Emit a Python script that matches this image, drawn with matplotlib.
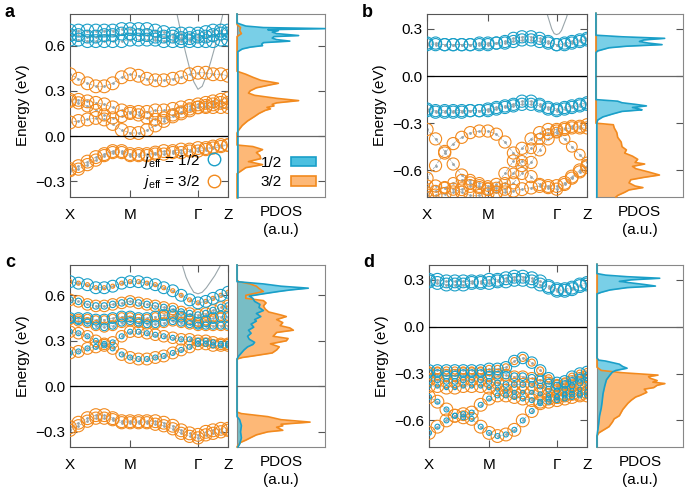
import numpy as np
import matplotlib
matplotlib.use("Agg")
import matplotlib.pyplot as plt
from matplotlib.lines import Line2D
from matplotlib.patches import Patch

plt.rcParams['font.family'] = ['Liberation Sans', 'DejaVu Sans']
plt.rcParams['font.size'] = 11
plt.rcParams['mathtext.fontset'] = 'custom'
plt.rcParams['mathtext.it'] = 'Liberation Sans:italic'
plt.rcParams['mathtext.rm'] = 'Liberation Sans'

BLUE = '#1a9fc8'
BLUE_FILL = '#4cc0e0'
ORANGE = '#f28a1e'
ORANGE_FILL = '#fdb877'
GRAY = '#9aa6ab'
SPINE = '#555555'

# k-path samples (X ... M ... Gamma ... Z)
kpath = [0.00, 0.14, 0.29, 0.43, 0.57, 0.71, 0.86, 1.00, 1.14, 1.28,
         1.42, 1.56, 1.71, 1.85, 1.99, 2.13, 2.26, 2.38, 2.51, 2.63]
kticks = [0.0, 1.0, 2.13, 2.63]
klabels = ['X', 'M', 'Γ', 'Z']

# ---------------- panel a ----------------
a_b1 = [0.70, 0.70, 0.70, 0.70, 0.70, 0.70, 0.71, 0.71, 0.71, 0.71, 0.70, 0.69, 0.68, 0.68, 0.68, 0.68, 0.69, 0.70, 0.70, 0.70]
a_b2 = [0.67, 0.67, 0.66, 0.66, 0.67, 0.67, 0.68, 0.68, 0.67, 0.67, 0.66, 0.66, 0.66, 0.65, 0.65, 0.66, 0.66, 0.67, 0.68, 0.68]
a_b3 = [0.64, 0.64, 0.63, 0.63, 0.63, 0.63, 0.63, 0.64, 0.64, 0.64, 0.64, 0.63, 0.63, 0.63, 0.63, 0.63, 0.63, 0.63, 0.64, 0.64]
a_o1 = [0.41, 0.38, 0.35, 0.33, 0.33, 0.35, 0.39, 0.41, 0.40, 0.38, 0.37, 0.37, 0.38, 0.39, 0.41, 0.42, 0.42, 0.41, 0.41, 0.40]
a_o2 = [0.24, 0.24, 0.23, 0.22, 0.21, 0.19, 0.17, 0.16, 0.16, 0.16, 0.17, 0.17, 0.18, 0.19, 0.20, 0.21, 0.22, 0.23, 0.24, 0.25]
a_o3 = [0.23, 0.22, 0.20, 0.17, 0.14, 0.12, 0.13, 0.15, 0.14, 0.12, 0.11, 0.12, 0.14, 0.16, 0.18, 0.19, 0.19, 0.19, 0.19, 0.19]
a_o4 = [0.09, 0.10, 0.11, 0.12, 0.11, 0.08, 0.04, 0.02, 0.02, 0.04, 0.07, 0.10, 0.13, 0.15, 0.17, 0.19, 0.20, 0.21, 0.22, 0.22]
a_o5 = [-0.22, -0.20, -0.17, -0.14, -0.12, -0.10, -0.10, -0.12, -0.12, -0.12, -0.11, -0.10, -0.10, -0.09, -0.09, -0.08, -0.08, -0.07, -0.06, -0.06]
a_o6 = [-0.23, -0.22, -0.19, -0.16, -0.13, -0.11, -0.11, -0.13, -0.13, -0.13, -0.12, -0.12, -0.11, -0.11, -0.10, -0.10, -0.09, -0.08, -0.07, -0.06]
a_free_k = [1.78, 1.85, 1.92, 1.99, 2.06, 2.13, 2.20, 2.27, 2.34, 2.41, 2.48, 2.55]
a_free_e = [0.81, 0.68, 0.56, 0.45, 0.36, 0.31, 0.33, 0.40, 0.49, 0.59, 0.70, 0.82]

pdos_a_12 = np.array([[0.81, 0], [0.75, 0], [0.73, 0.1], [0.72, 0.3], [0.713, 1.0], [0.706, 0.35],
                      [0.70, 0.47], [0.69, 0.4], [0.68, 0.45], [0.667, 0.70], [0.66, 0.42], [0.65, 0.4],
                      [0.64, 0.45], [0.63, 0.6], [0.62, 0.3], [0.61, 0.28], [0.60, 0.29], [0.59, 0.15],
                      [0.578, 0.06], [0.56, 0.01], [-0.41, 0.01]])
pdos_a_32 = np.array([[0.81, 0], [0.74, 0], [0.72, 0.04], [0.70, 0.03], [0.68, 0.05], [0.66, 0.0],
                      [0.43, 0], [0.41, 0.1], [0.39, 0.18], [0.37, 0.27], [0.35, 0.47], [0.34, 0.38],
                      [0.32, 0.22], [0.30, 0.15], [0.285, 0.13], [0.27, 0.2], [0.25, 0.45], [0.235, 0.70],
                      [0.22, 0.45], [0.21, 0.40], [0.20, 0.42], [0.19, 0.34], [0.18, 0.38], [0.17, 0.32],
                      [0.15, 0.25], [0.13, 0.2], [0.10, 0.12], [0.07, 0.06], [0.04, 0.02], [0.02, 0.0],
                      [-0.06, 0.0], [-0.07, 0.18], [-0.09, 0.29], [-0.11, 0.22], [-0.13, 0.26],
                      [-0.15, 0.27], [-0.17, 0.13], [-0.19, 0.29], [-0.21, 0.10], [-0.23, 0.05],
                      [-0.25, 0.0], [-0.41, 0.0]])

# ---------------- panel b ----------------
b_b1 = [0.21, 0.21, 0.20, 0.20, 0.20, 0.20, 0.21, 0.21, 0.21, 0.22, 0.24, 0.25, 0.25, 0.24, 0.22, 0.20, 0.20, 0.21, 0.22, 0.23]
b_b2 = [0.20, 0.20, 0.20, 0.20, 0.20, 0.20, 0.20, 0.20, 0.21, 0.21, 0.22, 0.23, 0.23, 0.22, 0.21, 0.20, 0.21, 0.22, 0.23, 0.24]
b_b3 = [-0.21, -0.22, -0.22, -0.22, -0.22, -0.22, -0.22, -0.21, -0.20, -0.19, -0.18, -0.16, -0.16, -0.18, -0.20, -0.21, -0.20, -0.19, -0.18, -0.17]
b_b4 = [-0.22, -0.23, -0.23, -0.23, -0.23, -0.22, -0.22, -0.22, -0.21, -0.20, -0.19, -0.18, -0.18, -0.19, -0.21, -0.22, -0.21, -0.20, -0.19, -0.18]
b_o1 = [-0.34, -0.40, -0.48, -0.56, -0.63, -0.68, -0.71, -0.72, -0.69, -0.62, -0.54, -0.46, -0.40, -0.36, -0.34, -0.34, -0.33, -0.32, -0.32, -0.31]
b_o2 = [-0.65, -0.57, -0.49, -0.43, -0.39, -0.36, -0.35, -0.35, -0.37, -0.42, -0.49, -0.57, -0.64, -0.69, -0.71, -0.72, -0.69, -0.65, -0.61, -0.57]
b_o3 = [-0.74, -0.73, -0.71, -0.68, -0.66, -0.66, -0.68, -0.70, -0.71, -0.68, -0.62, -0.54, -0.46, -0.40, -0.37, -0.36, -0.40, -0.45, -0.50, -0.55]
b_o4 = [-0.70, -0.70, -0.71, -0.72, -0.74, -0.76, -0.76, -0.75, -0.74, -0.72, -0.68, -0.62, -0.55, -0.47, -0.40, -0.35, -0.34, -0.33, -0.33, -0.33]
b_o5 = [-0.76, -0.76, -0.75, -0.74, -0.72, -0.70, -0.70, -0.72, -0.74, -0.74, -0.73, -0.72, -0.71, -0.70, -0.70, -0.70, -0.68, -0.64, -0.60, -0.58]
b_free_k = [1.97, 2.01, 2.05, 2.09, 2.13, 2.17, 2.21, 2.25, 2.29, 2.32]
b_free_e = [0.40, 0.35, 0.30, 0.27, 0.264, 0.27, 0.29, 0.33, 0.37, 0.41]

pdos_b_12 = np.array([[0.40, 0], [0.26, 0], [0.25, 0.3], [0.24, 0.79], [0.23, 0.55], [0.22, 0.5],
                      [0.21, 0.6], [0.20, 0.76], [0.19, 0.35], [0.18, 0.15], [0.16, 0.02], [0.15, 0],
                      [-0.15, 0], [-0.16, 0.25], [-0.17, 0.3], [-0.18, 0.45], [-0.19, 0.58], [-0.20, 0.42],
                      [-0.21, 0.5], [-0.215, 0.53], [-0.225, 0.3], [-0.24, 0.2], [-0.26, 0.08],
                      [-0.28, 0.02], [-0.30, 0.01], [-0.77, 0.01]])
pdos_b_32 = np.array([[0.40, 0], [-0.30, 0], [-0.31, 0.2], [-0.33, 0.21], [-0.36, 0.24], [-0.39, 0.25],
                      [-0.42, 0.29], [-0.45, 0.3], [-0.47, 0.35], [-0.49, 0.33], [-0.51, 0.42],
                      [-0.53, 0.48], [-0.55, 0.45], [-0.56, 0.56], [-0.575, 0.42], [-0.59, 0.46],
                      [-0.61, 0.6], [-0.63, 0.73], [-0.645, 0.55], [-0.66, 0.4], [-0.68, 0.38],
                      [-0.70, 0.45], [-0.71, 0.54], [-0.725, 0.38], [-0.74, 0.33], [-0.76, 0.25],
                      [-0.77, 0.23]])

# ---------------- panel c ----------------
c_1 = [0.69, 0.68, 0.67, 0.65, 0.65, 0.66, 0.68, 0.69, 0.69, 0.68, 0.67, 0.65, 0.63, 0.60, 0.57, 0.55, 0.56, 0.58, 0.60, 0.62]
c_2 = [0.57, 0.56, 0.54, 0.53, 0.53, 0.54, 0.55, 0.56, 0.55, 0.54, 0.53, 0.52, 0.51, 0.49, 0.48, 0.47, 0.48, 0.50, 0.52, 0.53]
c_3 = [0.45, 0.45, 0.45, 0.44, 0.44, 0.45, 0.46, 0.46, 0.45, 0.45, 0.46, 0.47, 0.47, 0.46, 0.44, 0.42, 0.43, 0.45, 0.46, 0.46]
c_4 = [0.44, 0.43, 0.42, 0.40, 0.39, 0.40, 0.42, 0.43, 0.42, 0.41, 0.41, 0.42, 0.43, 0.42, 0.41, 0.40, 0.40, 0.40, 0.40, 0.40]
c_5 = [0.36, 0.35, 0.33, 0.30, 0.28, 0.29, 0.33, 0.36, 0.36, 0.35, 0.34, 0.33, 0.32, 0.31, 0.31, 0.30, 0.30, 0.29, 0.28, 0.28]
c_6 = [0.22, 0.23, 0.25, 0.26, 0.27, 0.25, 0.21, 0.19, 0.18, 0.18, 0.19, 0.20, 0.22, 0.24, 0.26, 0.28, 0.28, 0.27, 0.27, 0.27]
c_7 = [-0.27, -0.24, -0.21, -0.19, -0.19, -0.21, -0.23, -0.23, -0.23, -0.23, -0.23, -0.24, -0.26, -0.29, -0.31, -0.32, -0.30, -0.29, -0.28, -0.28]
c_8 = [-0.29, -0.26, -0.23, -0.21, -0.21, -0.22, -0.24, -0.24, -0.24, -0.24, -0.25, -0.26, -0.28, -0.31, -0.33, -0.34, -0.32, -0.31, -0.30, -0.29]
c_free_k = [1.86, 1.93, 2.00, 2.06, 2.13, 2.20, 2.27, 2.34, 2.41, 2.48, 2.52]
c_free_e = [0.81, 0.72, 0.66, 0.62, 0.61, 0.62, 0.65, 0.69, 0.73, 0.78, 0.81]

pdos_c_12 = np.array([[0.80, 0], [0.69, 0], [0.675, 0.3], [0.66, 0.5], [0.647, 0.81], [0.635, 0.6],
                      [0.625, 0.47], [0.61, 0.3], [0.595, 0.14], [0.58, 0.18], [0.56, 0.2], [0.54, 0.26],
                      [0.52, 0.25], [0.50, 0.3], [0.48, 0.22], [0.46, 0.27], [0.44, 0.2], [0.43, 0.22],
                      [0.41, 0.16], [0.39, 0.19], [0.37, 0.13], [0.35, 0.16], [0.33, 0.12], [0.31, 0.14],
                      [0.29, 0.2], [0.276, 0.18], [0.26, 0.12], [0.24, 0.08], [0.22, 0.05], [0.20, 0.02],
                      [0.18, 0], [-0.20, 0], [-0.22, 0.03], [-0.26, 0.05], [-0.30, 0.04], [-0.34, 0.05],
                      [-0.38, 0.03], [-0.40, 0.01]])
pdos_c_32 = np.array([[0.80, 0], [0.70, 0], [0.69, 0.02], [0.675, 0.15], [0.66, 0.22], [0.645, 0.25],
                      [0.625, 0.3], [0.60, 0.1], [0.58, 0.1], [0.565, 0.3], [0.55, 0.33], [0.53, 0.3],
                      [0.51, 0.32], [0.49, 0.36], [0.47, 0.5], [0.46, 0.56], [0.44, 0.45], [0.42, 0.52],
                      [0.40, 0.49], [0.385, 0.6], [0.37, 0.64], [0.355, 0.45], [0.33, 0.41], [0.315, 0.58],
                      [0.30, 0.56], [0.28, 0.38], [0.26, 0.48], [0.24, 0.45], [0.22, 0.4], [0.20, 0.18],
                      [0.19, 0.06], [0.18, 0], [-0.17, 0], [-0.18, 0.05], [-0.20, 0.35], [-0.22, 0.5],
                      [-0.236, 0.83], [-0.25, 0.5], [-0.26, 0.52], [-0.27, 0.45], [-0.29, 0.52],
                      [-0.30, 0.35], [-0.32, 0.22], [-0.34, 0.15], [-0.355, 0.1], [-0.37, 0.04],
                      [-0.39, 0.01], [-0.40, 0]])

# ---------------- panel d ----------------
d_b1 = [0.30, 0.30, 0.29, 0.29, 0.29, 0.29, 0.29, 0.30, 0.30, 0.31, 0.32, 0.32, 0.31, 0.29, 0.26, 0.24, 0.24, 0.25, 0.27, 0.28]
d_b2 = [0.29, 0.28, 0.27, 0.27, 0.27, 0.28, 0.28, 0.28, 0.29, 0.29, 0.30, 0.30, 0.29, 0.27, 0.25, 0.23, 0.23, 0.24, 0.26, 0.27]
d_b3 = [-0.28, -0.28, -0.28, -0.28, -0.28, -0.28, -0.28, -0.27, -0.27, -0.26, -0.22, -0.20, -0.23, -0.28, -0.33, -0.36, -0.35, -0.32, -0.30, -0.29]
d_o1 = [-0.30, -0.30, -0.31, -0.31, -0.30, -0.30, -0.30, -0.31, -0.31, -0.31, -0.32, -0.32, -0.33, -0.34, -0.36, -0.38, -0.37, -0.35, -0.33, -0.32]
d_o2 = [-0.34, -0.34, -0.35, -0.35, -0.34, -0.34, -0.34, -0.35, -0.36, -0.37, -0.37, -0.37, -0.37, -0.38, -0.40, -0.41, -0.40, -0.38, -0.36, -0.35]
d_o3 = [-0.38, -0.38, -0.39, -0.39, -0.38, -0.38, -0.38, -0.39, -0.40, -0.41, -0.42, -0.42, -0.42, -0.43, -0.44, -0.45, -0.43, -0.41, -0.40, -0.39]
d_o4 = [-0.45, -0.48, -0.53, -0.57, -0.58, -0.55, -0.50, -0.46, -0.44, -0.44, -0.45, -0.46, -0.47, -0.48, -0.48, -0.47, -0.46, -0.45, -0.44, -0.44]
d_o5 = [-0.68, -0.64, -0.60, -0.57, -0.56, -0.59, -0.64, -0.68, -0.70, -0.69, -0.66, -0.60, -0.54, -0.49, -0.46, -0.45, -0.44, -0.43, -0.43, -0.42]

pdos_d_12 = np.array([[0.40, 0], [0.34, 0], [0.33, 0.1], [0.32, 0.35], [0.31, 0.73], [0.30, 0.4],
                      [0.29, 0.26], [0.28, 0.4], [0.27, 0.55], [0.26, 0.68], [0.25, 0.35], [0.235, 0.15],
                      [0.22, 0.05], [0.21, 0], [-0.20, 0], [-0.214, 0.02], [-0.22, 0.1], [-0.23, 0.18],
                      [-0.24, 0.26], [-0.255, 0.3], [-0.266, 0.35], [-0.28, 0.22], [-0.29, 0.18],
                      [-0.31, 0.15], [-0.34, 0.11], [-0.38, 0.09], [-0.43, 0.07], [-0.48, 0.06],
                      [-0.52, 0.05], [-0.57, 0.03], [-0.62, 0.02], [-0.66, 0.01], [-0.70, 0], [-0.77, 0]])
pdos_d_32 = np.array([[0.40, 0], [-0.26, 0], [-0.28, 0.05], [-0.295, 0.3], [-0.31, 0.71], [-0.32, 0.6],
                      [-0.33, 0.62], [-0.345, 0.7], [-0.355, 0.65], [-0.364, 0.79], [-0.375, 0.7],
                      [-0.39, 0.66], [-0.40, 0.55], [-0.42, 0.58], [-0.44, 0.5], [-0.45, 0.45],
                      [-0.47, 0.4], [-0.49, 0.36], [-0.51, 0.33], [-0.53, 0.3], [-0.55, 0.28],
                      [-0.57, 0.26], [-0.59, 0.2], [-0.61, 0.18], [-0.64, 0.14], [-0.66, 0.08],
                      [-0.68, 0.02], [-0.70, 0], [-0.77, 0]])

# band list: (energies, j=1/2 weight, j=3/2 weight)
panels = {
    'a': dict(bands=[(a_b1, 1.0, 0.0), (a_b2, 1.0, 0.0), (a_b3, 1.0, 0.0), (a_o1, 0.0, 1.0),
                     (a_o2, 0.0, 1.0), (a_o3, 0.0, 0.9), (a_o4, 0.0, 1.0), (a_o5, 0.0, 1.0), (a_o6, 0.0, 0.9)],
              free=(a_free_k, a_free_e), pd12=pdos_a_12, pd32=pdos_a_32,
              ylim=(-0.405, 0.81), yt=[-0.3, 0.0, 0.3, 0.6],
              pos=[0.1022, 0.602, 0.2307, 0.3697], dpos=[0.346, 0.602, 0.1285, 0.3697], lab=(0.007, 0.965)),
    'b': dict(bands=[(b_b1, 0.9, 0.0), (b_b2, 0.9, 0.0), (b_b3, 0.9, 0.0), (b_b4, 0.9, 0.0),
                     (b_o1, 0.0, 0.9), (b_o2, 0.0, 0.9), (b_o3, 0.0, 0.7), (b_o4, 0.0, 0.9), (b_o5, 0.0, 1.0)],
              free=(b_free_k, b_free_e), pd12=pdos_b_12, pd32=pdos_b_32,
              ylim=(-0.77, 0.395), yt=[-0.6, -0.3, 0.0, 0.3],
              pos=[0.6234, 0.602, 0.2336, 0.3697], dpos=[0.870, 0.602, 0.127, 0.3697], lab=(0.528, 0.965)),
    'c': dict(bands=[(c_1, 0.85, 0.1), (c_2, 0.25, 0.8), (c_3, 0.7, 0.35), (c_4, 0.3, 0.6),
                     (c_5, 0.15, 0.8), (c_6, 0.15, 0.85), (c_7, 0.0, 1.0), (c_8, 0.0, 0.9)],
              free=(c_free_k, c_free_e), pd12=pdos_c_12, pd32=pdos_c_32,
              ylim=(-0.40, 0.80), yt=[-0.3, 0.0, 0.3, 0.6],
              pos=[0.1022, 0.097, 0.2307, 0.3677], dpos=[0.346, 0.097, 0.1285, 0.3677], lab=(0.007, 0.46)),
    'd': dict(bands=[(d_b1, 1.0, 0.0), (d_b2, 1.0, 0.0), (d_b3, 0.8, 0.3), (d_o1, 0.35, 0.8),
                     (d_o2, 0.2, 0.9), (d_o3, 0.1, 1.0), (d_o4, 0.15, 1.0), (d_o5, 0.15, 1.0)],
              free=None, pd12=pdos_d_12, pd32=pdos_d_32,
              ylim=(-0.77, 0.395), yt=[-0.6, -0.3, 0.0, 0.3],
              pos=[0.6263, 0.097, 0.2307, 0.3677], dpos=[0.8715, 0.097, 0.1255, 0.3677], lab=(0.531, 0.46)),
}

S = 85  # marker area for full weight

fig = plt.figure(figsize=(6.85, 4.95), dpi=100)

for name, p in panels.items():
    ax = fig.add_axes(p['pos'])
    ax2 = fig.add_axes(p['dpos'])

    if p['free'] is not None:
        ax.plot(p['free'][0], p['free'][1], color=GRAY, lw=0.8, zorder=1)
    for e, w12, w32 in p['bands']:
        ax.plot(kpath, e, color=GRAY, lw=0.5, ls='--', marker='.', ms=2, zorder=2)
        if w32 > 0:
            ax.scatter(kpath, e, s=S * w32, facecolors='none', edgecolors=ORANGE, lw=0.8, zorder=3)
        if w12 > 0:
            ax.scatter(kpath, e, s=S * w12, facecolors='none', edgecolors=BLUE, lw=0.8, zorder=4)
    ax.axhline(0, color='black', lw=0.9, zorder=5)
    ax.set_xlim(0, 2.63)
    ax.set_ylim(*p['ylim'])
    ax.set_xticks(kticks)
    ax.set_xticklabels(klabels)
    ax.set_yticks(p['yt'])
    ax.set_yticklabels([('−%.1f' % abs(v)) if v < 0 else '%.1f' % v for v in p['yt']])
    ax.tick_params(direction='in', top=True, right=True, length=5, color=SPINE, width=0.8)
    ax.tick_params(axis='x', pad=8)
    ax.set_ylabel('Energy (eV)', labelpad=4)
    for sp in ax.spines.values():
        sp.set_color(SPINE)
        sp.set_linewidth(0.8)

    # PDOS panel
    e32, d32 = p['pd32'][:, 0], p['pd32'][:, 1]
    e12, d12 = p['pd12'][:, 0], p['pd12'][:, 1]
    ax2.fill_betweenx(e32, 0, d32, color=ORANGE_FILL, lw=0, zorder=1)
    ax2.fill_betweenx(e12, 0, d12, color=BLUE_FILL, alpha=0.75, lw=0, zorder=2)
    ax2.plot(d32, e32, color=ORANGE, lw=1.2, zorder=3, clip_on=False)
    ax2.plot(d12, e12, color=BLUE, lw=1.2, zorder=4, clip_on=False)
    ax2.axhline(0, color='#666666', lw=0.9, zorder=5)
    ax2.set_xlim(0, 1.0)
    ax2.set_ylim(*p['ylim'])
    ax2.set_xticks([])
    ax2.set_yticks(p['yt'])
    ax2.tick_params(axis='y', direction='in', left=False, right=True, labelleft=False,
                    length=5, color=SPINE, width=0.8)
    ax2.set_xlabel('PDOS\n(a.u.)', labelpad=6, linespacing=1.3)
    for sp in ax2.spines.values():
        sp.set_color('#888888')
        sp.set_linewidth(0.8)

    fig.text(p['lab'][0], p['lab'][1], name, fontsize=13, fontweight='bold')

    if name == 'a':
        h = [Line2D([], [], ls='none', marker='o', mfc='none', mec=BLUE, ms=9, mew=1.0),
             Line2D([], [], ls='none', marker='o', mfc='none', mec=ORANGE, ms=9, mew=1.0)]
        ax.legend(h, [r'$j_{\rm eff}$ = 1/2', r'$j_{\rm eff}$ = 3/2'], loc='lower right',
                  markerfirst=False, frameon=False, fontsize=11, handlelength=0.8,
                  handletextpad=0.5, borderaxespad=0.0, labelspacing=0.2,
                  bbox_to_anchor=(0.99, 0.0))
        hp = [Patch(facecolor=BLUE_FILL, edgecolor=BLUE, lw=1.2),
              Patch(facecolor=ORANGE_FILL, edgecolor=ORANGE, lw=1.2)]
        ax2.legend(hp, ['1/2', '3/2'], loc='lower right', markerfirst=False, frameon=False,
                   fontsize=11, handlelength=1.6, handleheight=0.6, handletextpad=0.6,
                   borderaxespad=0.1, labelspacing=0.35, bbox_to_anchor=(0.98, 0.0))

fig.savefig('out.png', dpi=100)
